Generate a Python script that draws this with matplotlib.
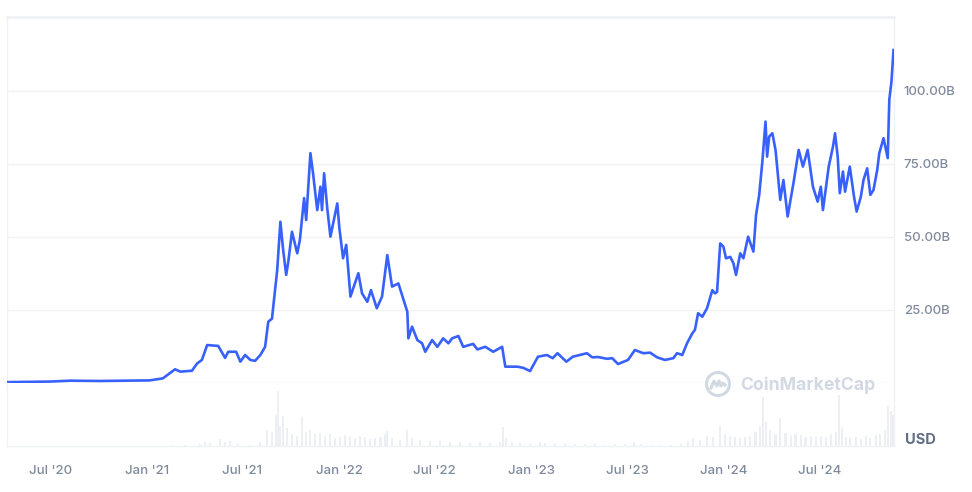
import matplotlib.pyplot as plt
import matplotlib.dates as mdates
import pandas as pd
from matplotlib.patches import Ellipse
from matplotlib.lines import Line2D

# market cap, billions USD
price_dates = [
    '2020-04-10', '2020-07-01', '2020-08-08', '2020-10-03', '2020-11-30', '2021-01-06',
    '2021-01-31', '2021-02-23', '2021-03-05', '2021-03-27', '2021-04-06', '2021-04-15',
    '2021-04-25', '2021-05-16', '2021-05-29', '2021-06-04', '2021-06-19', '2021-06-27',
    '2021-07-06', '2021-07-16', '2021-07-25', '2021-08-04', '2021-08-13', '2021-08-19',
    '2021-08-26', '2021-09-05', '2021-09-11', '2021-09-16', '2021-09-22', '2021-09-26',
    '2021-10-03', '2021-10-13', '2021-10-18', '2021-10-26', '2021-10-30', '2021-11-07',
    '2021-11-12', '2021-11-20', '2021-11-26', '2021-11-29', '2021-12-03', '2021-12-09',
    '2021-12-15', '2021-12-28', '2022-01-01', '2022-01-08', '2022-01-14', '2022-01-22',
    '2022-02-06', '2022-02-13', '2022-02-23', '2022-03-02', '2022-03-13', '2022-03-23',
    '2022-04-02', '2022-04-11', '2022-04-23', '2022-05-02', '2022-05-10', '2022-05-12',
    '2022-05-19', '2022-05-29', '2022-06-07', '2022-06-13', '2022-06-26', '2022-07-06',
    '2022-07-17', '2022-07-27', '2022-08-03', '2022-08-15', '2022-08-24', '2022-09-12',
    '2022-09-20', '2022-10-05', '2022-10-20', '2022-11-06', '2022-11-12', '2022-12-05',
    '2022-12-16', '2022-12-29', '2023-01-13', '2023-01-30', '2023-02-10', '2023-02-19',
    '2023-03-08', '2023-03-20', '2023-04-16', '2023-04-26', '2023-05-07', '2023-05-24',
    '2023-06-03', '2023-06-14', '2023-07-03', '2023-07-16', '2023-08-01', '2023-08-14',
    '2023-08-27', '2023-09-11', '2023-09-27', '2023-10-04', '2023-10-14', '2023-10-23',
    '2023-11-02', '2023-11-07', '2023-11-13', '2023-11-21', '2023-11-30', '2023-12-10',
    '2023-12-15', '2023-12-19', '2023-12-25', '2023-12-31', '2024-01-05', '2024-01-13',
    '2024-01-19', '2024-01-24', '2024-02-01', '2024-02-07', '2024-02-16', '2024-02-26',
    '2024-03-02', '2024-03-08', '2024-03-14', '2024-03-20', '2024-03-23', '2024-03-27',
    '2024-04-02', '2024-04-08', '2024-04-17', '2024-04-23', '2024-05-01', '2024-05-12',
    '2024-05-22', '2024-05-30', '2024-06-08', '2024-06-18', '2024-06-27', '2024-07-03',
    '2024-07-07', '2024-07-18', '2024-07-26', '2024-07-30', '2024-08-04', '2024-08-08',
    '2024-08-14', '2024-08-18', '2024-08-27', '2024-09-04', '2024-09-09', '2024-09-17',
    '2024-09-22', '2024-09-29', '2024-10-05', '2024-10-11', '2024-10-18', '2024-10-22',
    '2024-10-30', '2024-11-07', '2024-11-10', '2024-11-14', '2024-11-18',
]
price_values = [
    0.3, 0.5, 0.8, 0.7, 0.8, 0.9,
    1.6, 4.7, 3.9, 4.2, 6.7, 7.9,
    13.0, 12.7, 8.6, 10.7, 10.7, 7.3,
    9.6, 7.9, 7.6, 9.6, 12.4, 21.0,
    22.0, 38.7, 55.2, 46.0, 37.0, 41.5,
    51.8, 44.4, 49.0, 63.3, 55.8, 78.7,
    71.8, 59.2, 67.2, 59.2, 71.8, 59.8,
    50.1, 61.5, 53.0, 42.7, 47.3, 29.6,
    37.6, 30.7, 27.8, 31.8, 25.6, 29.6,
    43.8, 33.0, 34.1, 29.0, 24.4, 15.3,
    19.3, 14.7, 13.6, 10.7, 14.7, 12.4,
    15.3, 13.6, 15.3, 16.1, 12.4, 13.4,
    11.5, 12.4, 10.7, 12.4, 5.6, 5.6,
    5.2, 4.1, 9.0, 9.6, 8.5, 10.2,
    7.3, 9.0, 10.2, 8.8, 8.9, 8.3,
    8.5, 6.5, 7.9, 11.3, 10.2, 10.4,
    8.8, 7.9, 8.5, 10.2, 9.6, 13.6,
    17.0, 18.2, 23.9, 22.7, 25.6, 31.8,
    30.7, 31.2, 47.8, 46.7, 42.7, 43.2,
    41.0, 37.0, 44.4, 42.7, 50.1, 45.0,
    57.5, 64.4, 75.8, 89.5, 77.5, 84.4,
    85.5, 79.8, 62.7, 69.5, 57.0, 68.4,
    79.8, 74.1, 79.8, 67.2, 62.1, 67.2,
    59.2, 74.1, 80.9, 85.5, 77.5, 65.0,
    72.4, 65.5, 74.1, 63.8, 58.7, 63.8,
    69.5, 73.5, 64.4, 66.1, 72.9, 78.7,
    83.8, 77.0, 97.0, 103.0, 114.0,
]

# 24h volume, billions USD
vol_dates = [
    '2020-06-01', '2020-09-01', '2020-12-01',
    '2021-02-19', '2021-03-14', '2021-04-11', '2021-04-21', '2021-04-30', '2021-05-19',
    '2021-05-29', '2021-06-07', '2021-06-23', '2021-07-15', '2021-08-03', '2021-08-17',
    '2021-08-26', '2021-09-03', '2021-09-07', '2021-09-10', '2021-09-16', '2021-09-24',
    '2021-10-03', '2021-10-13', '2021-10-22', '2021-10-30', '2021-11-06', '2021-11-16',
    '2021-11-25', '2021-12-05', '2021-12-14', '2021-12-24', '2022-01-02', '2022-01-12',
    '2022-01-21', '2022-01-31', '2022-02-09', '2022-02-19', '2022-02-28', '2022-03-10',
    '2022-03-20', '2022-03-29', '2022-04-02', '2022-04-11', '2022-04-26', '2022-05-10',
    '2022-05-19', '2022-06-03', '2022-06-22', '2022-07-11', '2022-07-30', '2022-08-18',
    '2022-09-06', '2022-09-25', '2022-10-14', '2022-11-02', '2022-11-08', '2022-11-14',
    '2022-11-25', '2022-12-10', '2022-12-29', '2023-01-17', '2023-01-27', '2023-02-15',
    '2023-03-06', '2023-03-25', '2023-04-13', '2023-05-02', '2023-05-21', '2023-06-09',
    '2023-06-28', '2023-07-14', '2023-07-27', '2023-08-15', '2023-09-03', '2023-09-22',
    '2023-10-11', '2023-10-24', '2023-11-04', '2023-11-17', '2023-11-30', '2023-12-12',
    '2023-12-25', '2024-01-03', '2024-01-13', '2024-01-22', '2024-02-01', '2024-02-10',
    '2024-02-20', '2024-03-01', '2024-03-10', '2024-03-16', '2024-03-21', '2024-03-29',
    '2024-04-08', '2024-04-17', '2024-04-27', '2024-05-07', '2024-05-16', '2024-05-26',
    '2024-06-04', '2024-06-14', '2024-06-23', '2024-07-03', '2024-07-12', '2024-07-22',
    '2024-07-31', '2024-08-06', '2024-08-12', '2024-08-19', '2024-08-28', '2024-09-07',
    '2024-09-17', '2024-09-26', '2024-10-05', '2024-10-15', '2024-10-24', '2024-11-02',
    '2024-11-08', '2024-11-14', '2024-11-18',
]
vol_values = [
    0.05, 0.1, 0.1,
    0.3, 0.2, 0.6, 1.0, 0.8, 1.9,
    0.9, 1.2, 0.5, 0.3, 1.0, 4.0,
    3.5, 7.8, 14.0, 5.0, 7.5, 4.5,
    3.0, 2.5, 7.3, 3.5, 4.0, 3.0,
    3.3, 2.5, 3.0, 2.0, 2.2, 2.8,
    2.4, 2.0, 2.6, 2.2, 1.8, 2.0,
    2.3, 3.0, 3.8, 2.0, 1.6, 4.0,
    2.0, 1.6, 1.2, 1.3, 1.0, 1.1,
    0.8, 0.9, 0.8, 1.0, 4.8, 2.0,
    1.0, 0.7, 0.5, 1.1, 0.7, 0.5,
    0.5, 0.4, 0.6, 0.4, 0.3, 0.4,
    0.5, 1.1, 0.4, 0.3, 0.3, 0.3,
    0.4, 1.2, 2.0, 1.6, 2.5, 2.2,
    5.0, 3.0, 2.5, 2.2, 2.0, 2.3,
    2.6, 3.5, 5.0, 12.5, 6.0, 4.0,
    3.0, 7.0, 3.2, 2.5, 3.0, 2.8,
    2.4, 2.6, 2.2, 2.5, 2.3, 3.0,
    3.5, 13.0, 4.5, 2.3, 2.0, 2.2,
    1.8, 2.5, 2.0, 2.7, 3.0, 4.0,
    10.5, 9.0, 8.0,
]

tick_dates = ['2020-07-01', '2021-01-01', '2021-07-01', '2022-01-01', '2022-07-01',
              '2023-01-01', '2023-07-01', '2024-01-01', '2024-07-01']
tick_labels = ["Jul '20", "Jan '21", "Jul '21", "Jan '22", "Jul '22",
               "Jan '23", "Jul '23", "Jan '24", "Jul '24"]
price_ticks = [25, 50, 75, 100]
price_tick_labels = ['25.00B', '50.00B', '75.00B', '100.00B']

plt.rcParams['font.family'] = ['Inter', 'DejaVu Sans']

line_color = '#3861fb'
label_color = '#808a9d'
border_color = '#eff1f4'

W, H = 972, 492
fig = plt.figure(figsize=(W / 100, H / 100), dpi=100)
ax = fig.add_axes([0.0072, 0.2215, 0.9126, 0.7439])
ax_vol = fig.add_axes([0.0072, 0.0935, 0.9126, 0.128], sharex=ax)

x = pd.to_datetime(price_dates)
xv = pd.to_datetime(vol_dates)

ax.plot(x, price_values, color=line_color, lw=1.9, solid_joinstyle='round', zorder=3)
ax_vol.bar(xv, vol_values, width=4, color='#eceff3', zorder=2)

x_min = pd.Timestamp('2020-04-10')
x_max = pd.Timestamp('2024-11-19')
ax.set_xlim(x_min, x_max)
ax.set_ylim(0, 125.3)
ax_vol.set_ylim(0, 16)

# правая ось цен
ax.yaxis.tick_right()
ax.set_yticks(price_ticks)
ax.set_yticklabels(price_tick_labels)
ax.tick_params(axis='y', length=0, pad=7, labelsize=9.5, labelcolor=label_color)
ax.tick_params(axis='x', length=0, labelbottom=False)
ax.grid(axis='y', color='#f1f2f4', lw=1)

ax_vol.set_yticks([])
ax_vol.set_xticks(pd.to_datetime(tick_dates))
ax_vol.set_xticklabels(tick_labels)
ax_vol.tick_params(axis='x', length=0, pad=14, labelsize=9.5, labelcolor=label_color)

for a in (ax, ax_vol):
    for s in a.spines.values():
        s.set_color(border_color)
        s.set_linewidth(1)
ax.spines['top'].set_linewidth(2)
ax_vol.spines['top'].set_visible(False)

for lbl in ax.get_yticklabels() + ax_vol.get_xticklabels():
    lbl.set_fontweight('medium')

fig.text(0.931, 0.105, 'USD', fontsize=10.5, fontweight='bold', color='#616e85',
         va='center', ha='left')

# водяной знак CoinMarketCap
wm_color = '#d3d9e3'
cx, cy, r = 718 / W, 1 - 384 / H, 11.5
fig.patches.append(Ellipse((cx, cy), 2 * r / W, 2 * r / H, transform=fig.transFigure,
                           fill=False, ec=wm_color, lw=2.2, zorder=1))
wave_x = [-7, -4, -1, 1, 3, 5, 7]
wave_y = [-4, 3, -2, 3, -2, 1, -1]
fig.lines.append(Line2D([cx + dx / W for dx in wave_x], [cy + dy / H for dy in wave_y],
                        transform=fig.transFigure, color=wm_color, lw=2.2,
                        solid_joinstyle='round', zorder=1))
fig.text(0.7613, 0.2175, 'CoinMarketCap', fontsize=12.7, fontweight='bold',
         color=wm_color, va='center', ha='left', zorder=1)

fig.savefig('out.png', dpi=100, facecolor='white')
